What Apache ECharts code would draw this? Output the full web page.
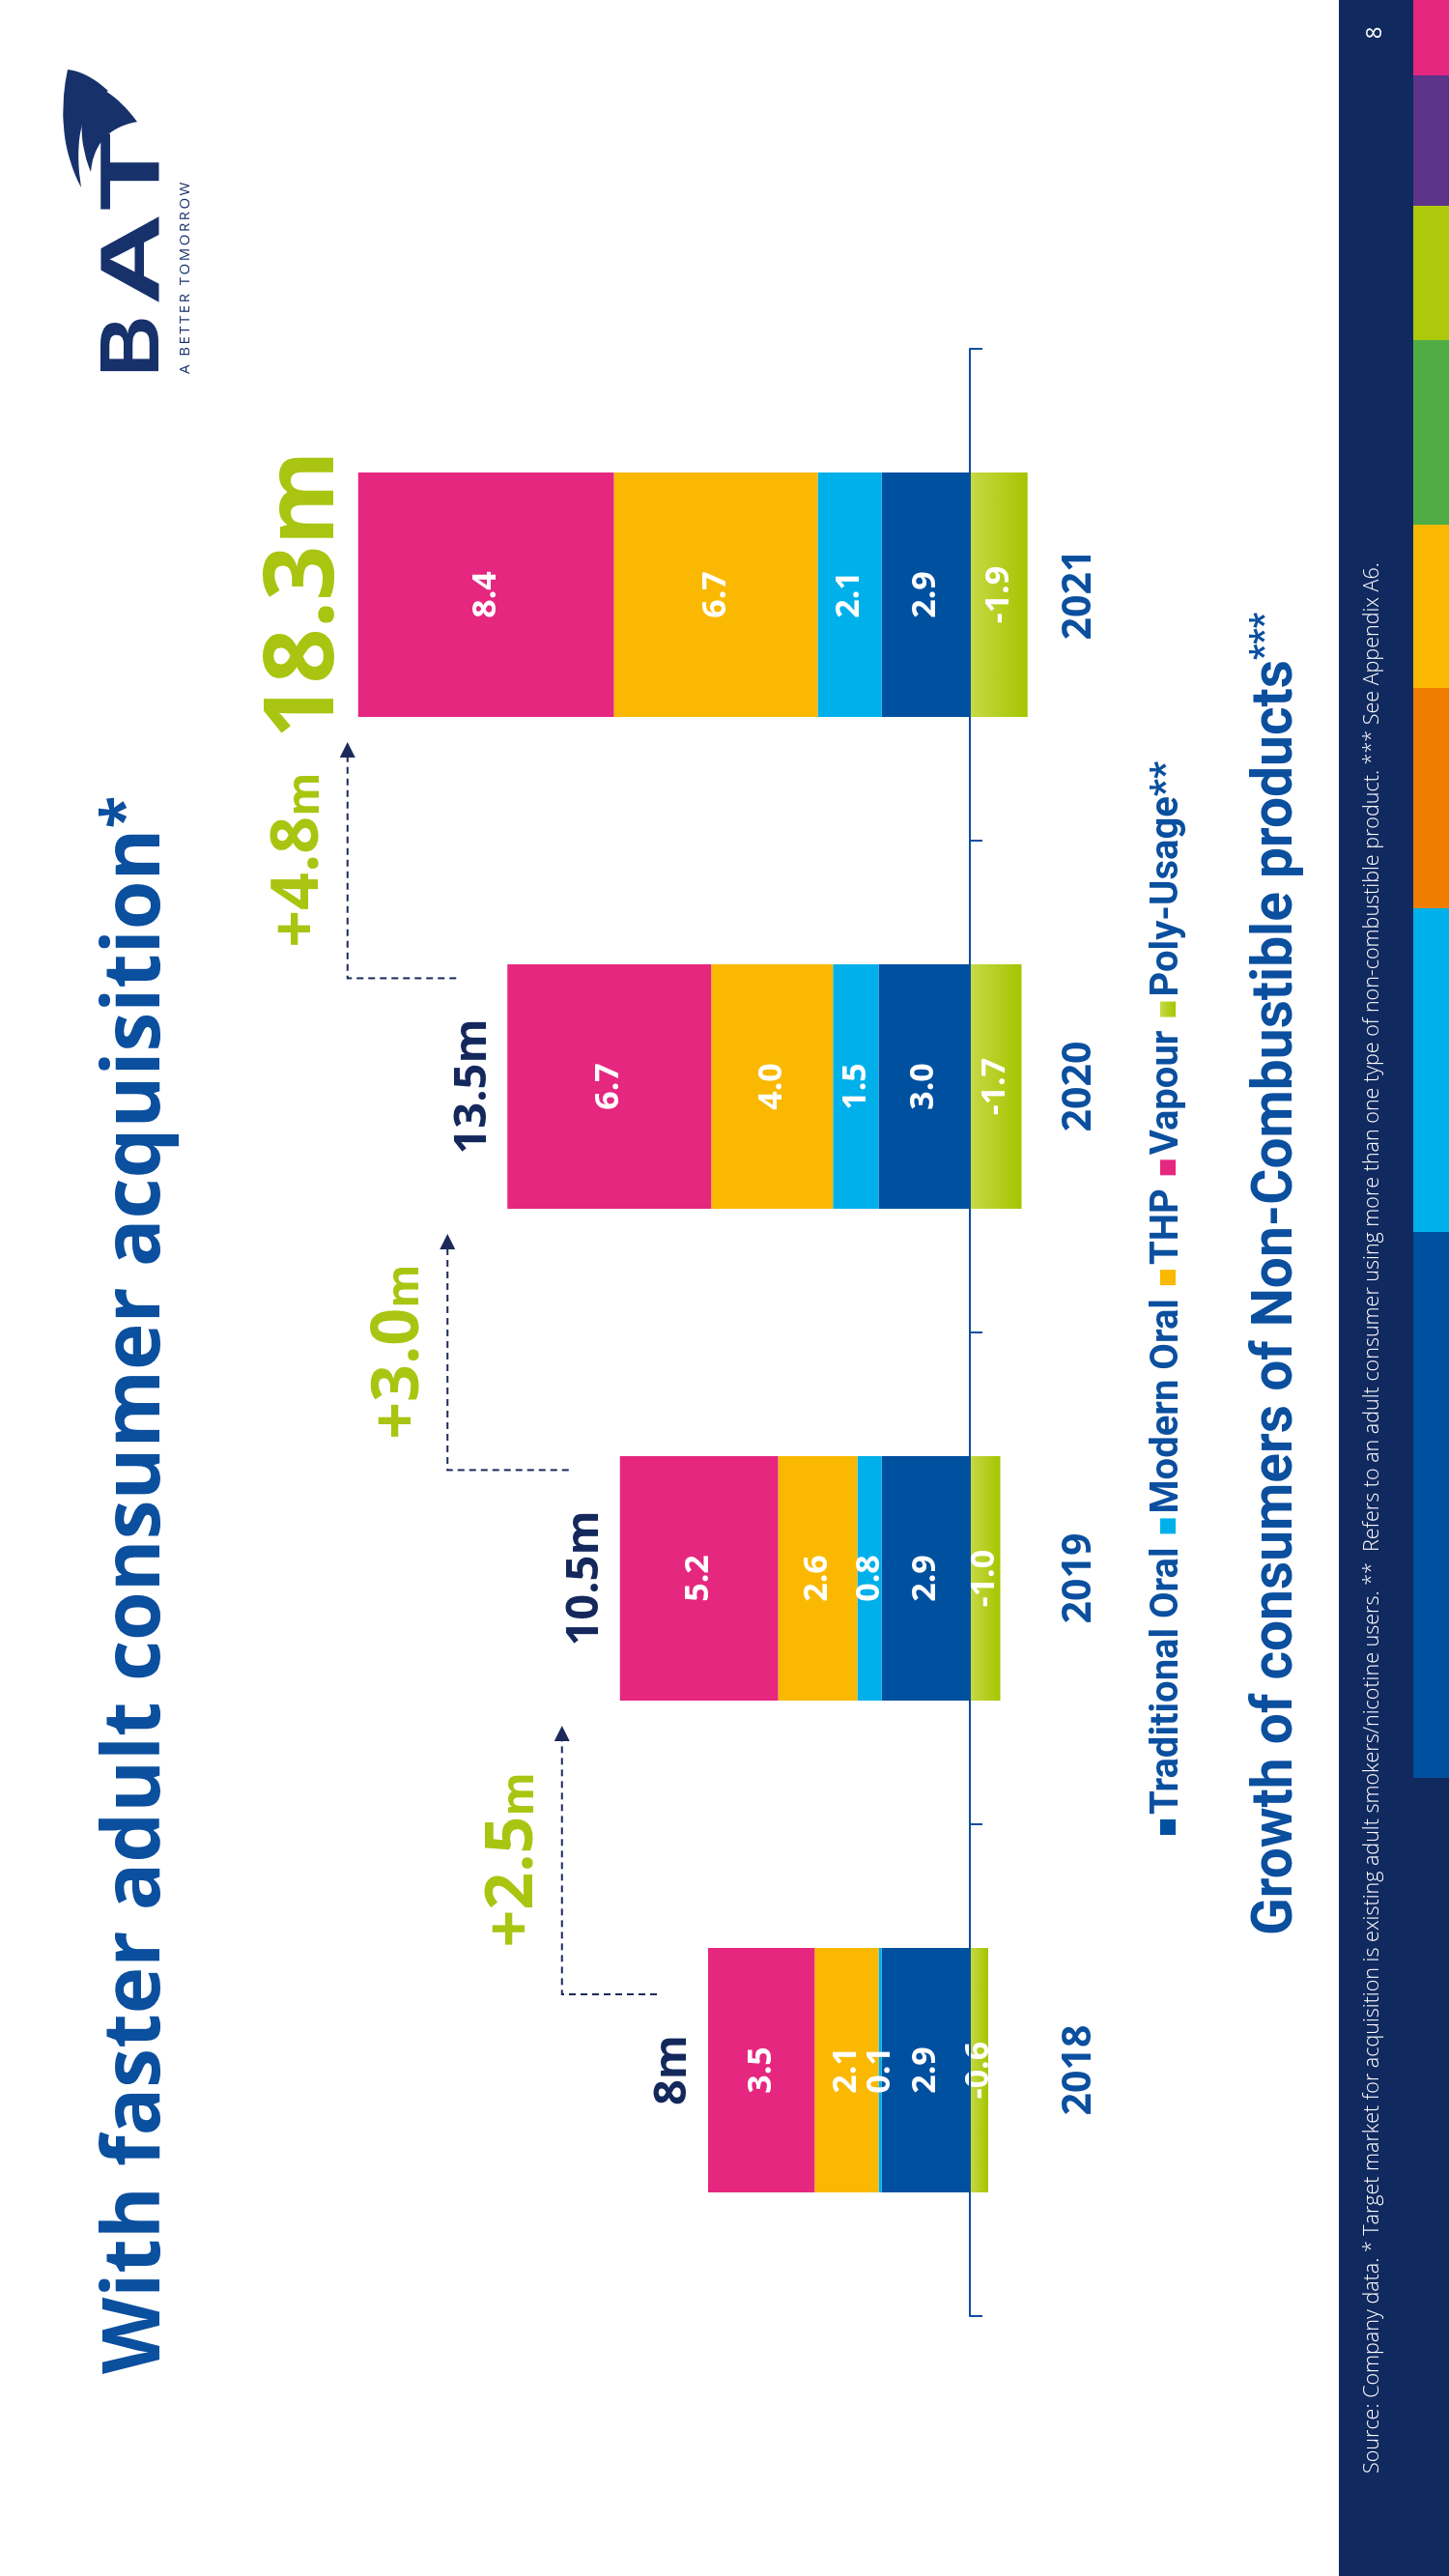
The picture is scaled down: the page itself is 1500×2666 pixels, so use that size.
<!DOCTYPE html>
<html>
<head>
<meta charset="utf-8">
<script src="https://cdn.jsdelivr.net/npm/echarts@6/dist/echarts.min.js"></script>
<style>
html,body{margin:0;padding:0;width:1500px;height:2666px;overflow:hidden;background:#ffffff;}
#chart{position:absolute;left:0;top:0;width:2666px;height:1500px;transform-origin:0 0;transform:translate(0px,2666px) rotate(-90deg);background:#ffffff;}
</style>
</head>
<body>
<div id="chart"></div>
<script>
// ---------- DATA ----------
const years = ['2018', '2019', '2020', '2021'];
const traditionalOral = [2.9, 2.9, 3.0, 2.9];
const modernOral = [0.1, 0.8, 1.5, 2.1];
const thp = [2.1, 2.6, 4.0, 6.7];
const vapour = [3.5, 5.2, 6.7, 8.4];
const polyUsage = [-0.6, -1.0, -1.7, -1.9];
const totalLabels = ['8m', '10.5m', '13.5m', '18.3m'];
const growthLabels = ['+2.5m', '+3.0m', '+4.8m'];
const seriesNames = ['Traditional Oral', 'Modern Oral', 'THP', 'Vapour', 'Poly-Usage**'];
const titleText = 'With faster adult consumer acquisition';
const subtitleText = 'Growth of consumers of Non-Combustible products';
const footnoteText = 'Source: Company data. * Target market for acquisition is existing adult smokers/nicotine users. **  Refers to an adult consumer using more than one type of non-combustible product. *** See Appendix A6.';

// ---------- STYLE ----------
const BLUE = '#0b4f9f';
const NAVY = '#14285c';
const LIME = '#a9c511';
const LOGO = '#17316b';
const COLORS = ['#0050a0', '#00b0ea', '#fab800', '#e5277f'];
const BAR_W = 253;
const FONT = 'Open Sans';

const posTop = years.map((y, i) => traditionalOral[i] + modernOral[i] + thp[i] + vapour[i]);

const mctx = document.createElement('canvas').getContext('2d');
function textW(t, font) { mctx.font = font; return mctx.measureText(t).width; }

function quad(p0, c, p1, n) {
  const pts = [];
  for (let k = 0; k <= n; k++) {
    const t = k / n, u = 1 - t;
    pts.push([u * u * p0[0] + 2 * u * t * c[0] + t * t * p1[0], u * u * p0[1] + 2 * u * t * c[1] + t * t * p1[1]]);
  }
  return pts;
}
function crescent(a, c1, b, c2, d, c3) {
  return quad(a, c1, b, 20).concat(quad(b, c2, d, 12).slice(1)).concat(quad(d, c3, a, 20).slice(1));
}

const chart = echarts.init(document.getElementById('chart'), null, {width: 2666, height: 1500});

function barSeries(name, data, color) {
  return {
    name: name, type: 'bar', stack: 'total', data: data, barWidth: BAR_W,
    itemStyle: {color: color}, silent: true,
    label: {
      show: true, position: 'inside', color: '#ffffff', fontFamily: FONT, fontWeight: 700, fontSize: 34,
      formatter: p => Number(p.value).toFixed(1)
    }
  };
}

const polyGrad = new echarts.graphic.LinearGradient(0, 0, 0, 1, [
  {offset: 0, color: '#c6da46'}, {offset: 1, color: '#a6c400'}
]);

const cornerGap = [60, 62, 11];
const subW = textW(subtitleText, '700 60px Roboto');
const subScale = 1320 / subW;

const option = {
  animation: false,
  backgroundColor: '#ffffff',
  grid: {left: 269, right: 361, top: 311, height: 756},
  xAxis: {
    type: 'category', data: years, boundaryGap: true,
    axisLine: {show: true, onZero: true, lineStyle: {color: BLUE, width: 2}},
    axisTick: {show: true, length: 13, lineStyle: {color: BLUE, width: 2}},
    axisLabel: {margin: 30, color: BLUE, fontFamily: FONT, fontWeight: 700, fontSize: 41},
    z: 5
  },
  yAxis: {type: 'value', min: -2, max: 22, show: false},
  legend: {
    data: seriesNames, left: 762, top: 1184, icon: 'rect', itemWidth: 16, itemHeight: 16, itemGap: 14,
    selectedMode: false,
    textStyle: {fontFamily: 'Roboto', fontWeight: 'bold', fontSize: 40, color: BLUE}
  },
  series: [
    barSeries(seriesNames[0], traditionalOral, COLORS[0]),
    barSeries(seriesNames[1], modernOral, COLORS[1]),
    barSeries(seriesNames[2], thp, COLORS[2]),
    barSeries(seriesNames[3], vapour, COLORS[3]),
    barSeries(seriesNames[4], polyUsage, polyGrad),
    {
      type: 'scatter', symbolSize: 1, itemStyle: {color: 'transparent', opacity: 1}, silent: true, z: 6,
      data: years.map((y, i) => {
        const last = i === years.length - 1;
        return {value: [i, posTop[i]], label: last ? {fontSize: 100, color: LIME, distance: 4} : {}};
      }),
      label: {
        show: true, position: 'top', distance: 12, formatter: p => totalLabels[p.dataIndex],
        fontFamily: FONT, fontWeight: 700, fontSize: 47, color: NAVY, opacity: 1
      }
    },
    {
      type: 'custom', silent: true, z: 7, clip: false,
      data: growthLabels.map((g, i) => [i, posTop[i]]),
      renderItem: function (params, api) {
        const i = params.dataIndex;
        const c0 = api.coord([i, posTop[i]]);
        const c1 = api.coord([i + 1, posTop[i + 1]]);
        const halfW = textW(totalLabels[i], '700 47px "Open Sans"') / 2;
        const sx = c0[0] + halfW + 42;
        const sy = c0[1] - 53;
        const cy = c1[1] - cornerGap[i];
        const tx = c1[0] - BAR_W / 2 - 26;
        const g = growthLabels[i];
        return {
          type: 'group',
          children: [
            {type: 'polyline', shape: {points: [[sx, sy], [sx, cy], [tx - 15, cy]]},
             style: {stroke: '#1b2a5a', lineWidth: 2, lineDash: [7, 5], fill: null}},
            {type: 'polygon', shape: {points: [[tx, cy], [tx - 16, cy - 8], [tx - 16, cy + 8]]},
             style: {fill: '#1b2a5a'}},
            {type: 'text', x: (sx + tx) / 2, y: cy - 16,
             style: {
               text: '{a|' + g.slice(0, -1) + '}{b|m}',
               align: 'center', verticalAlign: 'bottom',
               rich: {
                 a: {fontFamily: FONT, fontWeight: 700, fontSize: 68, fill: LIME, lineHeight: 80, verticalAlign: 'bottom'},
                 b: {fontFamily: FONT, fontWeight: 700, fontSize: 46, fill: LIME, lineHeight: 80, verticalAlign: 'bottom', padding: [0, 0, 4, 0]}
               }
             }}
          ]
        };
      }
    }
  ],
  graphic: [
    {type: 'text', x: 209, y: 142, silent: true,
     style: {text: '{t|' + titleText + '}{s|*}', verticalAlign: 'middle',
       rich: {t: {fontFamily: FONT, fontWeight: 700, fontSize: 82, fill: BLUE},
              s: {fontFamily: FONT, fontWeight: 700, fontSize: 62, fill: BLUE, verticalAlign: 'top'}}}},
    {type: 'text', x: 663, y: 1322, scaleX: subScale, silent: true,
     style: {text: '{t|' + subtitleText + '}{s|***}', verticalAlign: 'middle',
       rich: {t: {fontFamily: 'Roboto', fontWeight: 700, fontSize: 60, fill: BLUE},
              s: {fontFamily: 'Roboto', fontWeight: 700, fontSize: 38, fill: BLUE, verticalAlign: 'top'}}}},
    {type: 'rect', silent: true, shape: {x: 0, y: 1386, width: 2666, height: 114}, style: {fill: '#10295f'}},
    {type: 'rect', silent: true, shape: {x: 826, y: 1463, width: 565, height: 37}, style: {fill: '#0050a0'}},
    {type: 'rect', silent: true, shape: {x: 1391, y: 1463, width: 335, height: 37}, style: {fill: '#00b0ea'}},
    {type: 'rect', silent: true, shape: {x: 1726, y: 1463, width: 228, height: 37}, style: {fill: '#ef7d00'}},
    {type: 'rect', silent: true, shape: {x: 1954, y: 1463, width: 169, height: 37}, style: {fill: '#fab800'}},
    {type: 'rect', silent: true, shape: {x: 2123, y: 1463, width: 191, height: 37}, style: {fill: '#50ad46'}},
    {type: 'rect', silent: true, shape: {x: 2314, y: 1463, width: 139, height: 37}, style: {fill: '#aec90b'}},
    {type: 'rect', silent: true, shape: {x: 2453, y: 1463, width: 135, height: 37}, style: {fill: '#5c348a'}},
    {type: 'rect', silent: true, shape: {x: 2588, y: 1463, width: 78, height: 37}, style: {fill: '#e5277f'}},
    {type: 'text', x: 106, y: 1421, silent: true,
     style: {text: footnoteText, fill: '#ffffff', font: '300 21.5px "Open Sans"', verticalAlign: 'middle'}},
    {type: 'text', x: 2632, y: 1424, silent: true,
     style: {text: '8', fill: '#ffffff', font: '400 22px "Open Sans"', align: 'center', verticalAlign: 'middle'}},
    {type: 'text', x: 2276, y: 140, silent: true,
     style: {text: 'B', fill: LOGO, font: '700 88px "Liberation Sans"', verticalAlign: 'middle'}},
    {type: 'text', x: 2350, y: 140, scaleX: 1.5, silent: true,
     style: {text: 'A', fill: LOGO, font: '700 88px "Liberation Sans"', verticalAlign: 'middle'}},
    {type: 'text', x: 2448, y: 140, scaleX: 1.5, silent: true,
     style: {text: 'T', fill: LOGO, font: '700 88px "Liberation Sans"', verticalAlign: 'middle'}},
    {type: 'polygon', silent: true,
     shape: {points: crescent([2472, 84], [2525, 56], [2594, 70], [2592, 90], [2572, 112], [2552, 72])}, style: {fill: LOGO}},
    {type: 'polygon', silent: true,
     shape: {points: crescent([2488, 94], [2532, 76], [2580, 92], [2572, 118], [2540, 142], [2532, 98])}, style: {fill: LOGO}},
    {type: 'text', x: 2279, y: 192, silent: true,
     style: {text: 'A BETTER TOMORROW'.split('').join('\u2009'), fill: LOGO, font: '400 15px "Open Sans"', verticalAlign: 'middle'}}
  ]
};

chart.setOption(option);
</script>
</body>
</html>
